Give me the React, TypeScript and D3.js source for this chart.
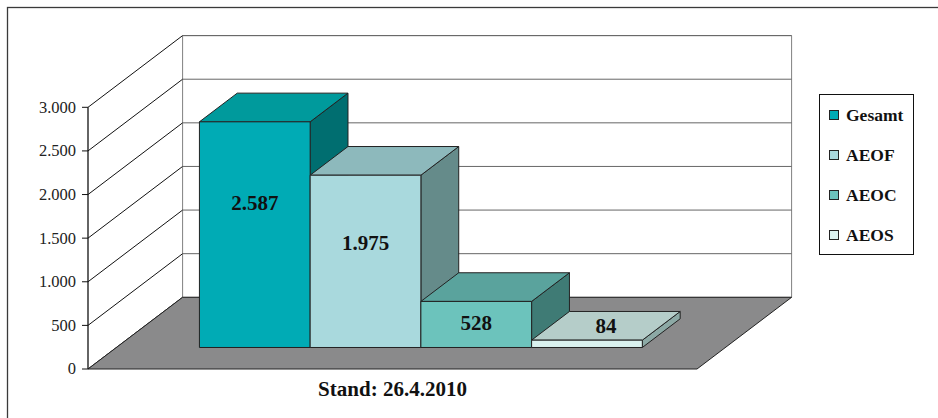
import React from 'react'
import * as d3 from 'd3'

// chart data
const categories = ['Gesamt', 'AEOF', 'AEOC', 'AEOS']
const values = [2587, 1975, 528, 84]
const frontColors = ['#00abb5', '#a9d9dd', '#6cc3bc', '#daf2ef']
const topColors = ['#009a9c', '#8db9bc', '#5aa39d', '#b5cdc9']
const sideColors = ['#006e70', '#658b8a', '#3f7b75', '#8ca9a5']
const tickValues = [0, 500, 1000, 1500, 2000, 2500, 3000]
const categoryLabel = 'Stand: 26.4.2010'

const width = 938,
    height = 418

// 3d box of the plot: front plane + depth offset
const plotLeft = 88,
    plotRight = 697,
    plotBottom = 369,
    plotTop = 107.3
const depthX = 94.6,
    depthY = -71.7
const barFront = 0.3,
    barBack = 0.7

const de = d3.formatLocale({ decimal: ',', thousands: '.', grouping: [3], currency: ['', '€'] })
const fmt = de.format(',d')

const proj = (x: number, y: number, d: number): [number, number] => [x + d * depthX, y + d * depthY]
const pts = (arr: [number, number][]) => arr.map(p => p.join(',')).join(' ')

const App = () => {
    const y = d3.scaleLinear().domain([0, 3000]).range([plotBottom, plotTop])
    const x = d3.scaleBand().domain(categories).range([plotLeft, plotRight]).paddingInner(0).paddingOuter(0.75)
    const bw = x.bandwidth()
    const maxV = d3.max(values) as number
    const serif = '"Liberation Serif", "Times New Roman", serif'

    return (
        <svg width={width} height={height} style={{ position: 'absolute', left: 0, top: 0, background: '#fff' }}>
            {/* outer frame */}
            <rect x={7.5} y={7.5} width={960} height={440} fill="#fff" stroke="#3a3a3a" strokeWidth={1.3} />

            {/* left wall */}
            <polygon
                points={pts([proj(plotLeft, plotBottom, 0), proj(plotLeft, plotBottom, 1), proj(plotLeft, plotTop, 1), proj(plotLeft, plotTop, 0)])}
                fill="#fff" stroke="none" />
            {/* back wall */}
            <polygon
                points={pts([proj(plotLeft, plotBottom, 1), proj(plotRight, plotBottom, 1), proj(plotRight, plotTop, 1), proj(plotLeft, plotTop, 1)])}
                fill="#fff" stroke="#808080" strokeWidth={1} />

            {/* gridlines */}
            {tickValues.map(t => {
                const a = proj(plotLeft, y(t), 0)
                const b = proj(plotLeft, y(t), 1)
                const c = proj(plotRight, y(t), 1)
                return (
                    <g key={t}>
                        <line x1={a[0]} y1={a[1]} x2={b[0]} y2={b[1]} stroke="#111" strokeWidth={1} />
                        {t > 0 && <line x1={b[0]} y1={b[1]} x2={c[0]} y2={c[1]} stroke="#666" strokeWidth={1} />}
                    </g>
                )
            })}

            {/* floor */}
            <polygon
                points={pts([proj(plotLeft, plotBottom, 0), proj(plotLeft, plotBottom, 1), proj(plotRight, plotBottom, 1), proj(plotRight, plotBottom, 0)])}
                fill="#8a8a8b" stroke="#222" strokeWidth={1} />

            {/* value axis */}
            <line x1={plotLeft} y1={plotTop} x2={plotLeft} y2={plotBottom} stroke="#111" strokeWidth={1.3} />
            {tickValues.map(t => (
                <g key={'tk' + t} transform={`translate(${plotLeft},${y(t)})`}>
                    <line x1={-6} x2={0} stroke="#111" strokeWidth={1} />
                    <text x={-12} dy="0.33em" textAnchor="end" fontFamily={serif} fontSize={16.5} fill="#222">{fmt(t)}</text>
                </g>
            ))}

            {/* bars */}
            {categories.map((c, i) => {
                const x0 = x(c) as number
                const x1 = x0 + bw
                const y0 = y(0)
                const y1 = y(values[i])
                const front = [proj(x0, y1, barFront), proj(x1, y1, barFront), proj(x1, y0, barFront), proj(x0, y0, barFront)] as [number, number][]
                const top = [proj(x0, y1, barFront), proj(x1, y1, barFront), proj(x1, y1, barBack), proj(x0, y1, barBack)] as [number, number][]
                const side = [proj(x1, y1, barFront), proj(x1, y1, barBack), proj(x1, y0, barBack), proj(x1, y0, barFront)] as [number, number][]
                return (
                    <g key={c}>
                        <polygon points={pts(side)} fill={sideColors[i]} stroke="#222" strokeWidth={1} strokeLinejoin="round" />
                        <polygon points={pts(top)} fill={topColors[i]} stroke="#222" strokeWidth={1} strokeLinejoin="round" />
                        <polygon points={pts(front)} fill={frontColors[i]} stroke="#222" strokeWidth={1} strokeLinejoin="round" />
                    </g>
                )
            })}

            {/* data labels */}
            {categories.map((c, i) => {
                const x0 = x(c) as number
                const h = y(0) - y(values[i])
                let p: [number, number]
                if (h > 20) {
                    p = proj(x0 + bw / 2, y(0) - h * (0.5 + 0.14 * values[i] / maxV), barFront)
                } else {
                    // too small -> sits on the top face
                    p = proj(x0 + bw / 2, y(values[i]), (barFront + barBack) / 2)
                }
                return (
                    <text key={'lb' + c} x={p[0]} y={p[1]} dy="0.35em" textAnchor="middle"
                        fontFamily={serif} fontWeight="bold" fontSize={21} fill="#111">
                        {fmt(values[i])}
                    </text>
                )
            })}

            {/* category label */}
            <text x={(plotLeft + plotRight) / 2} y={396} textAnchor="middle" fontFamily={serif} fontWeight="bold" fontSize={21} fill="#111">
                {categoryLabel}
            </text>

            {/* legend */}
            <rect x={819.5} y={94.5} width={94} height={160} fill="#fff" stroke="#111" strokeWidth={1} />
            {categories.map((c, i) => (
                <g key={'lg' + c} transform={`translate(829,${115 + i * 40})`}>
                    <rect x={0.5} y={-4.5} width={9} height={9} fill={frontColors[i]} stroke="#222" strokeWidth={1} />
                    <text x={17} dy="0.35em" fontFamily={serif} fontWeight="bold" fontSize={17.5} fill="#111">{c}</text>
                </g>
            ))}
        </svg>
    )
}

export default App
